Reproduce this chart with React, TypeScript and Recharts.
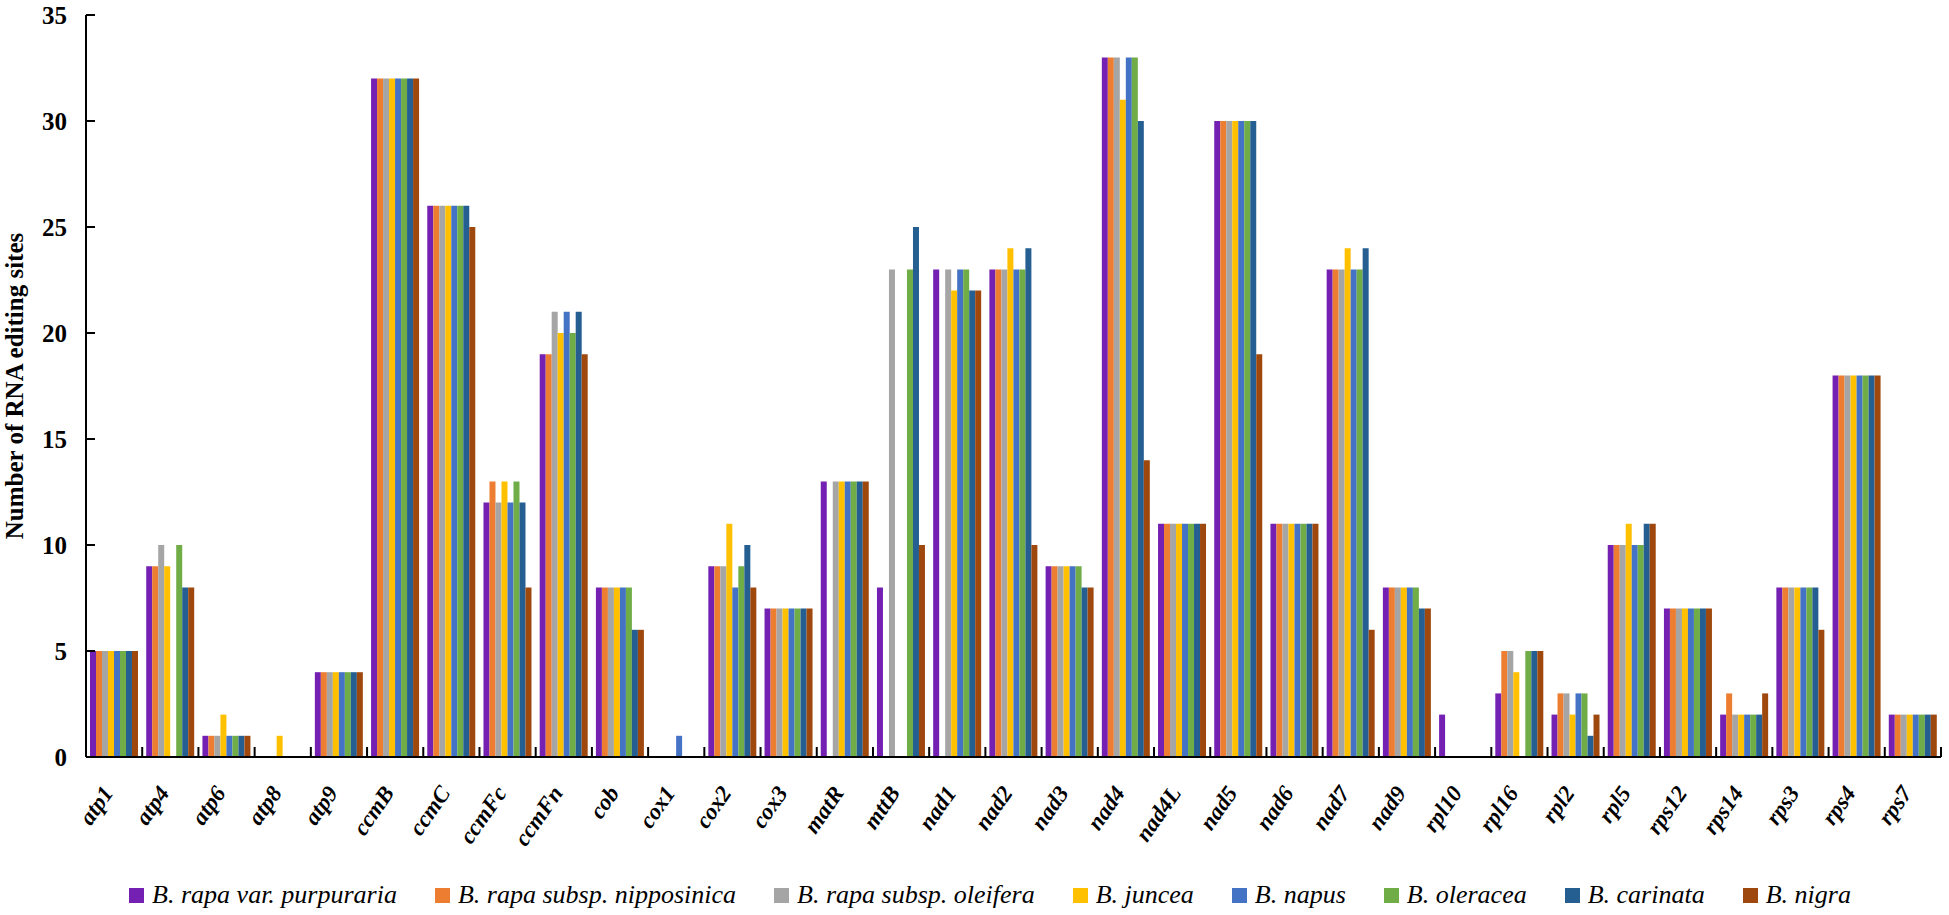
import React from 'react';
import { BarChart, Bar, XAxis, YAxis, Legend } from 'recharts';

const categories = ['atp1','atp4','atp6','atp8','atp9','ccmB','ccmC','ccmFc','ccmFn','cob','cox1','cox2','cox3','matR','mttB','nad1','nad2','nad3','nad4','nad4L','nad5','nad6','nad7','nad9','rpl10','rpl16','rpl2','rpl5','rps12','rps14','rps3','rps4','rps7'];

const purpuraria  = [5,9,1,0,4,32,26,12,19,8,0,9,7,13,8,23,23,9,33,11,30,11,23,8,2,3,2,10,7,2,8,18,2];
const nipposinica = [5,9,1,0,4,32,26,13,19,8,0,9,7,0,0,0,23,9,33,11,30,11,23,8,0,5,3,10,7,3,8,18,2];
const oleifera    = [5,10,1,0,4,32,26,12,21,8,0,9,7,13,23,23,23,9,33,11,30,11,23,8,0,5,3,10,7,2,8,18,2];
const juncea      = [5,9,2,1,4,32,26,13,20,8,0,11,7,13,0,22,24,9,31,11,30,11,24,8,0,4,2,11,7,2,8,18,2];
const napus       = [5,0,1,0,4,32,26,12,21,8,1,8,7,13,0,23,23,9,33,11,30,11,23,8,0,0,3,10,7,2,8,18,2];
const oleracea    = [5,10,1,0,4,32,26,13,20,8,0,9,7,13,23,23,23,9,33,11,30,11,23,8,0,5,3,10,7,2,8,18,2];
const carinata    = [5,8,1,0,4,32,26,12,21,6,0,10,7,13,25,22,24,8,30,11,30,11,24,7,0,5,1,11,7,2,8,18,2];
const nigra       = [5,8,1,0,4,32,25,8,19,6,0,8,7,13,10,22,10,8,14,11,19,11,6,7,0,5,2,11,7,3,6,18,2];

const yTicks = [0, 5, 10, 15, 20, 25, 30, 35];

const seriesList = [
  { key: 'purpuraria', name: 'B. rapa var. purpuraria', values: purpuraria, color: '#7420B2' },
  { key: 'nipposinica', name: 'B. rapa subsp. nipposinica', values: nipposinica, color: '#ED7D31' },
  { key: 'oleifera', name: 'B. rapa subsp. oleifera', values: oleifera, color: '#A5A5A5' },
  { key: 'juncea', name: 'B. juncea', values: juncea, color: '#FFC000' },
  { key: 'napus', name: 'B. napus', values: napus, color: '#4472C4' },
  { key: 'oleracea', name: 'B. oleracea', values: oleracea, color: '#70AD47' },
  { key: 'carinata', name: 'B. carinata', values: carinata, color: '#255E91' },
  { key: 'nigra', name: 'B. nigra', values: nigra, color: '#9E480E' },
];

const data = categories.map((c, i) => {
  const row: any = { gene: c };
  seriesList.forEach((s) => { row[s.key] = s.values[i]; });
  return row;
});

const CHART_W = 1949;
const CHART_H = 915;
const MARGIN = { top: 15, right: 8, left: 0, bottom: 5 };
const Y_AXIS_W = 86;
const PLOT_W = CHART_W - MARGIN.left - MARGIN.right - Y_AXIS_W;
const FONT = '"Liberation Serif", "Times New Roman", serif';

const XTick = (props: any) => {
  const { x, y, payload, index } = props;
  const band = PLOT_W / categories.length;
  const left = x - band / 2;
  const ty = y + 36;
  return (
    <g>
      <line x1={left} y1={y} x2={left} y2={y - 10} stroke="#000" strokeWidth={2} />
      {index === categories.length - 1 && (
        <line x1={x + band / 2} y1={y} x2={x + band / 2} y2={y - 10} stroke="#000" strokeWidth={2} />
      )}
      <text
        x={x}
        y={ty}
        transform={`rotate(-55 ${x} ${ty})`}
        textAnchor="end"
        fontFamily={FONT}
        fontWeight="bold"
        fontStyle="italic"
        fontSize={23}
        fill="#000"
      >
        {payload.value}
      </text>
    </g>
  );
};

const YTick = (props: any) => {
  const { x, y, payload } = props;
  return (
    <g>
      <line x1={x + 19} y1={y} x2={x + 28} y2={y} stroke="#000" strokeWidth={2} />
      <text x={x} y={y} dy="0.35em" textAnchor="end" fontFamily={FONT} fontWeight="bold" fontSize={25} fill="#000">
        {payload.value}
      </text>
    </g>
  );
};

const YLabel = (props: any) => {
  const vb = props.viewBox || { x: 0, y: 0, width: 0, height: 0 };
  const cx = 14;
  const cy = vb.y + vb.height / 2;
  return (
    <text
      x={cx}
      y={cy}
      transform={`rotate(-90 ${cx} ${cy})`}
      textAnchor="middle"
      dominantBaseline="central"
      fontFamily={FONT}
      fontWeight="bold"
      fontSize={25}
      fill="#000"
    >
      Number of RNA editing sites
    </text>
  );
};

const LegendContent = (props: any) => {
  const payload = [...(props.payload || [])];
  const order = seriesList.map((s) => s.name);
  payload.sort((a: any, b: any) => order.indexOf(a.value) - order.indexOf(b.value));
  return (
    <div
      style={{
        display: 'flex',
        justifyContent: 'center',
        alignItems: 'center',
        height: 30,
        paddingLeft: 39,
        boxSizing: 'border-box',
        fontFamily: FONT,
        fontStyle: 'italic',
        fontSize: 26,
        color: '#000',
        gap: 38,
        whiteSpace: 'nowrap',
      }}
    >
      {payload.map((p: any) => (
        <div key={p.value} style={{ display: 'flex', alignItems: 'center' }}>
          <span style={{ display: 'inline-block', width: 15, height: 15, background: p.color, marginRight: 8 }} />
          <span>{p.value}</span>
        </div>
      ))}
    </div>
  );
};

export default function App() {
  return (
    <div style={{ position: 'absolute', left: 0, top: 0, width: CHART_W, height: CHART_H, background: '#fff' }}>
      <BarChart
        width={CHART_W}
        height={CHART_H}
        data={data}
        margin={MARGIN}
        barCategoryGap={4}
        barGap={0}
      >
        <XAxis
          dataKey="gene"
          interval={0}
          tickLine={false}
          tickSize={0}
          tickMargin={0}
          height={123}
          axisLine={{ stroke: '#000', strokeWidth: 2 }}
          tick={<XTick />}
        />
        <YAxis
          width={Y_AXIS_W}
          domain={[0, 35]}
          ticks={yTicks}
          interval={0}
          tickLine={false}
          tickSize={0}
          tickMargin={19}
          axisLine={{ stroke: '#000', strokeWidth: 2 }}
          tick={<YTick />}
          label={<YLabel />}
        />
        <Legend verticalAlign="bottom" align="center" content={<LegendContent />} />
        {seriesList.map((s) => (
          <Bar key={s.key} dataKey={s.key} name={s.name} fill={s.color} isAnimationActive={false} />
        ))}
      </BarChart>
    </div>
  );
}
